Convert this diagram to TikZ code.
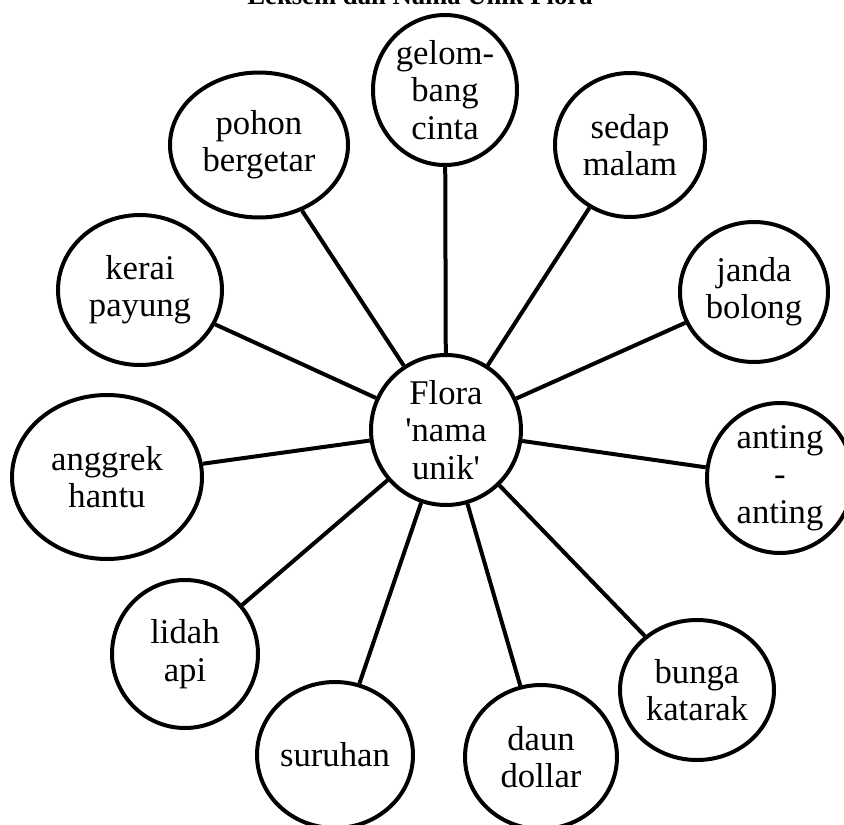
\documentclass[tikz,border=0pt]{standalone}
\usepackage{fontspec}
\setmainfont{Liberation Serif}
\usetikzlibrary{shapes.geometric}
\begin{document}
\begin{tikzpicture}[x=0.75pt, y=-0.75pt,
	flower/.style={ellipse, draw, line width=3pt, align=center, inner sep=0pt,
	font=\fontsize{26}{28}\selectfont},
	stem/.style={line width=3pt}]
	\useasboundingbox (0,0) rectangle (844,825);
	
	%Title
	\node (Title) at (420,4) [anchor=base, font=\bfseries\fontsize{20}{24}\selectfont]{Leksem dan Nama Unik Flora};
	
	%Nodes
	\node (Flora) at (446,430) [flower, minimum width=112.5pt, minimum height=112.5pt]{Flora\\\textquotesingle nama\\unik\textquotesingle};
	\node (Gelombang) at (445,90) [flower, minimum width=108pt, minimum height=112.5pt]{gelom-\\bang\\cinta};
	\node (Sedap) at (630,145) [flower, minimum width=112.5pt, minimum height=108pt]{sedap\\malam};
	\node (Janda) at (754,292) [flower, minimum width=111pt, minimum height=105pt]{janda\\bolong};
	\node (Anting) at (780,478) [flower, minimum width=109.5pt, minimum height=112.5pt]{anting\\-\\anting};
	\node (Bunga) at (697,690) [flower, minimum width=115.5pt, minimum height=105pt]{bunga\\katarak};
	\node (Daun) at (541,757) [flower, minimum width=114pt, minimum height=108pt]{daun\\dollar};
	\node (Suruhan) at (335,755) [flower, minimum width=117pt, minimum height=109.5pt]{suruhan};
	\node (Lidah) at (185,654) [flower, minimum width=109.5pt, minimum height=111pt]{lidah\\api};
	\node (Anggrek) at (107,477) [flower, minimum width=142.5pt, minimum height=123pt]{anggrek\\hantu};
	\node (Kerai) at (140,290) [flower, minimum width=123pt, minimum height=112.5pt]{kerai\\payung};
	\node (Pohon) at (259,145) [flower, minimum width=133.5pt, minimum height=108.75pt]{pohon\\bergetar};
	
	%Links
	\foreach \leaf in {Gelombang, Sedap, Janda, Anting, Bunga, Daun, Suruhan, Lidah, Anggrek, Kerai, Pohon}
	\draw[stem] (Flora) -- (\leaf);
	
\end{tikzpicture}
\end{document}
